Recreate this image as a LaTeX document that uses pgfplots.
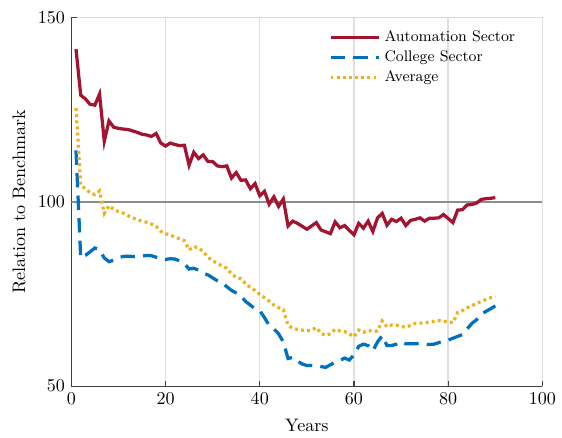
\documentclass[border=0pt]{standalone}
\usepackage{pgfplots}
\pgfplotsset{compat=1.18}
\definecolor{autored}{rgb}{0.635,0.078,0.184}
\definecolor{collblue}{rgb}{0,0.447,0.741}
\definecolor{avgyellow}{rgb}{0.929,0.694,0.125}

\pgfplotstableread{
year auto college avg
1 141.5 114 125.5
2 129 84.8 104.5
3 128 85.5 103.6
4 126.5 86.5 102.5
5 126.3 87.5 102
6 129.3 87 103
7 116.5 84.8 96.9
8 122 83.8 99
9 120.3 84.2 98
10 120 84.9 97.4
11 119.8 85.2 97
12 119.7 85.3 96.3
13 119.3 85.2 95.7
14 118.9 85.2 95.2
15 118.4 85.3 94.8
16 118.2 85.5 94.5
17 117.8 85.4 94
18 118.6 85 93.4
19 116 84.6 92
20 115.2 84.4 91.4
21 116 84.6 91
22 115.6 84.5 90.5
23 115.3 84 90
24 115.4 83.2 89.5
25 110 81.8 87
26 113.5 82 87.9
27 111.8 81.5 87.5
28 112.8 80.7 86.6
29 111 80.2 85
30 111 79.4 84
31 109.8 78.6 83.4
32 109.6 78 82.6
33 109.8 77 82
34 106.5 76 80.5
35 108 75.3 79.5
36 105.9 74.5 79.2
37 106 73 77.8
38 103.6 72 76.8
39 105 71 76
40 101.7 70.5 74.9
41 102.9 68.6 74
42 99.4 66.5 73.1
43 101.4 65.5 72
44 98.8 64.2 71.3
45 100.8 62 70.8
46 93.5 57.5 66.5
47 94.8 57.8 65.7
48 94.2 56.8 65.4
49 93.4 56 65.2
50 92.6 55.6 65
51 93.5 55.6 65.2
52 94.4 55.5 65.9
53 92.4 55.3 64.3
54 91.9 55.1 63.8
55 91.4 55.8 64.2
56 94.6 56.5 65.4
57 93 57 65
58 93.6 57.6 64.8
59 92.3 57.1 64.2
60 91.1 58.5 63.4
61 94.2 60.8 65.2
62 92.9 61.4 64.6
63 94.8 61 65.2
64 92 59.6 64.8
65 95.7 62 65
66 96.9 63.7 67.7
67 93.7 61 66.1
68 95.3 61 66.6
69 94.7 61.4 66.5
70 95.6 62.1 66.2
71 93.6 61.5 66
72 95 61.5 66.5
73 95.3 61.5 67
74 95.7 61.6 67.1
75 94.8 61.4 67.2
76 95.6 61.3 67.4
77 95.6 61.4 67.6
78 95.7 61.8 67.8
79 96.6 62.3 67.6
80 95.5 62.5 67.5
81 94.4 63 67.2
82 97.8 63.5 70
83 97.9 64 70.5
84 99.2 65.5 71.3
85 99.3 67 71.8
86 99.7 68 72.4
87 100.7 69.5 73
88 100.9 70.3 73.5
89 101 71 74
90 101.2 71.8 74.4
}\data

\begin{document}
\begin{tikzpicture}
\begin{axis}[
    scale only axis,
    width=261pt, height=204pt,
    xmin=0, xmax=100, ymin=50, ymax=150,
    xtick={0,20,...,100}, ytick={50,100,150},
    axis lines*=left,
    axis line style={draw=black!75, line width=0.6pt},
    axis background/.style={draw=black!15, line width=0.6pt},
    tick align=inside, tick pos=left,
    major tick length=3pt,
    tick style={black!75, line width=0.6pt},
    xmajorgrids, grid style={black!12, line width=0.8pt},
    xlabel={Years}, ylabel={Relation to Benchmark},
    xlabel style={yshift=-1.5pt},
    legend style={at={(0.962,0.985)}, anchor=north east, draw=none, fill=none,
        font=\fontsize{8.5}{10}\selectfont, row sep=-0.5pt,
        nodes={inner xsep=2pt}},
    legend cell align=left,
    legend image code/.code={\draw[#1] (0pt,0pt) -- (27pt,0pt);},
]
\addplot[black!45, line width=0.7pt, forget plot] coordinates {(0,100) (100,100)};
\addplot[autored, line width=1.8pt] table[x=year, y=auto] {\data};
\addlegendentry{Automation Sector}
\addplot[collblue, line width=1.8pt, dash pattern=on 8pt off 4.5pt] table[x=year, y=college] {\data};
\addlegendentry{College Sector}
\addplot[avgyellow, line width=1.8pt, dash pattern=on 1.6pt off 1.8pt] table[x=year, y=avg] {\data};
\addlegendentry{Average}
\end{axis}
\path ([xshift=-39.5pt,yshift=9.9pt]current axis.north west)
      ([xshift=8.3pt,yshift=-27.5pt]current axis.south east);
\end{tikzpicture}
\end{document}
